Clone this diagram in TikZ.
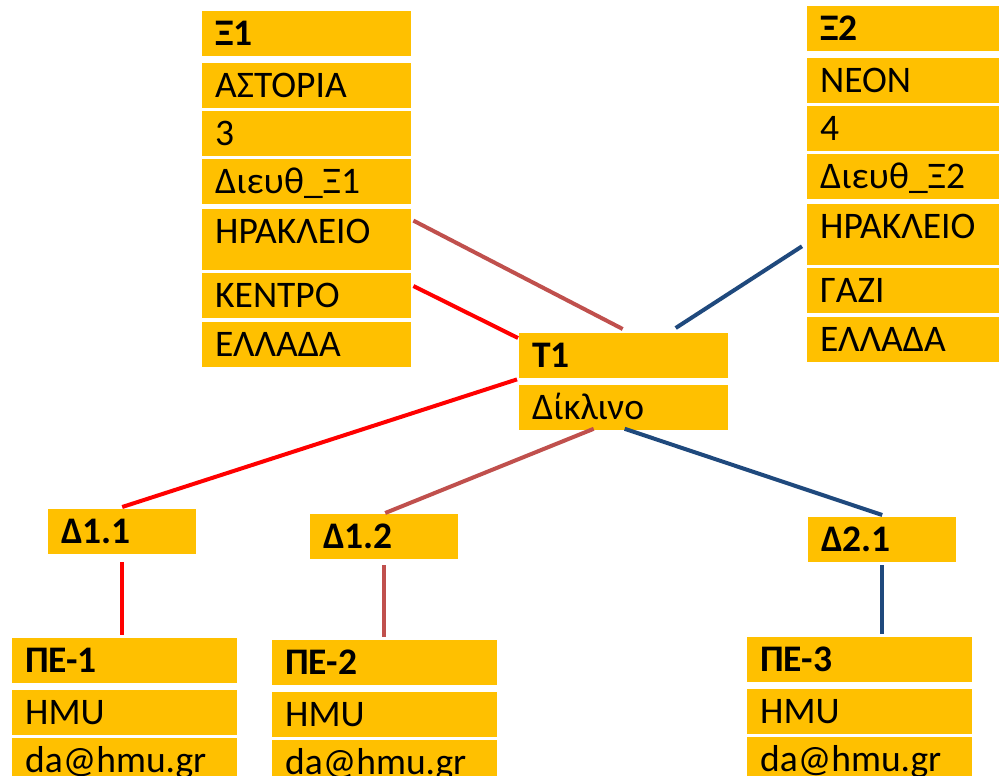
\documentclass[tikz,border=0pt]{standalone}
\usepackage{fontspec}
\setmainfont{Carlito}
\usepackage{xcolor}
\usepackage{tikz}
\usetikzlibrary{positioning,calc}

\definecolor{cellorange}{HTML}{FFC000}
\definecolor{linkred}{HTML}{FF0000}
\definecolor{linkbrown}{HTML}{C0504D}
\definecolor{linkblue}{HTML}{1F497D}

\begin{document}
\begin{tikzpicture}[x=1pt, y=-1pt]
  % Define styles
  \tikzstyle{cell} = [rectangle, fill=cellorange, anchor=north west, inner xsep=13pt, inner ysep=10.5pt, text height=24pt, text depth=0pt, align=left, font=\fontsize{37.5}{42}\selectfont]
  \tikzstyle{head} = [cell, font=\fontsize{37.5}{42}\selectfont\bfseries]
  \tikzstyle{tall} = [cell, text depth=16pt]
  \tikzstyle{wide} = [text width=183pt]
  \tikzstyle{narrow} = [text width=122pt]
  \tikzstyle{guest} = [text width=199pt]
  \tikzstyle{link} = [line width=4pt]

  \clip (0,0) rectangle (999,776);

  % Hotel 1
  \node [head, wide] (x1) at (202,11) {Ξ1};
  \node [cell, wide, below=6pt of x1] (x1name) {ΑΣΤΟΡΙΑ};
  \node [cell, wide, below=3pt of x1name] (x1stars) {3};
  \node [cell, wide, below=3pt of x1stars] (x1addr) {Διευθ\_Ξ1};
  \node [tall, wide, below=4pt of x1addr] (x1city) {ΗΡΑΚΛΕΙΟ};
  \node [cell, wide, below=3pt of x1city] (x1area) {ΚΕΝΤΡΟ};
  \node [cell, wide, below=3pt of x1area] (x1country) {ΕΛΛΑΔΑ};

  % Hotel 2
  \node [head, wide] (x2) at (807,6) {Ξ2};
  \node [cell, wide, below=6pt of x2] (x2name) {ΝΕΟΝ};
  \node [cell, wide, below=3pt of x2name] (x2stars) {4};
  \node [cell, wide, below=3pt of x2stars] (x2addr) {Διευθ\_Ξ2};
  \node [tall, wide, below=4pt of x2addr] (x2city) {ΗΡΑΚΛΕΙΟ};
  \node [cell, wide, below=3pt of x2city] (x2area) {ΓΑΖΙ};
  \node [cell, wide, below=3pt of x2area] (x2country) {ΕΛΛΑΔΑ};

  % Room type
  \node [head, wide] (t1) at (519,333) {Τ1};
  \node [cell, wide, below=6pt of t1] (t1room) {Δίκλινο};

  % Rooms
  \node [head, narrow] (d11) at (48,509) {Δ1.1};
  \node [head, narrow] (d12) at (310,514) {Δ1.2};
  \node [head, narrow] (d21) at (808,517) {Δ2.1};

  % Guests
  \node [head, guest] (pe1) at (12,638) {ΠΕ-1};
  \node [cell, guest, below=6pt of pe1] (pe1org) {HMU};
  \node [cell, guest, below=3pt of pe1org] (pe1mail) {da@hmu.gr};

  \node [head, guest] (pe2) at (272,640) {ΠΕ-2};
  \node [cell, guest, below=6pt of pe2] (pe2org) {HMU};
  \node [cell, guest, below=3pt of pe2org] (pe2mail) {da@hmu.gr};

  \node [head, guest] (pe3) at (747,637) {ΠΕ-3};
  \node [cell, guest, below=6pt of pe3] (pe3org) {HMU};
  \node [cell, guest, below=3pt of pe3org] (pe3mail) {da@hmu.gr};

  % Links
  \draw [link, linkbrown] ($(x1city.north east)+(2,12)$) -- ($(t1.north)+(-1,-4)$);
  \draw [link, linkred] ($(x1area.north east)+(2,13)$) -- ($(t1.north west)+(-1,5)$);
  \draw [link, linkblue] ($(x2city.west)+(-5,12)$) -- ($(t1.north)+(52,-5)$);
  \draw [link, linkred] ($(t1.south west)+(-2,1)$) -- ($(d11.north)+(0,-2)$);
  \draw [link, linkbrown] ($(t1room.south)+(-30,-1)$) -- ($(d12.north)+(1,-1)$);
  \draw [link, linkblue] ($(t1room.south)+(1,-1)$) -- ($(d21.north)+(0,-2)$);
  \draw [link, linkred] ($(d11.south)+(0,8)$) -- ($(d11.south |- pe1.north)+(0,-3)$);
  \draw [link, linkbrown] ($(d12.south)+(0,6)$) -- ($(d12.south |- pe2.north)+(0,-3)$);
  \draw [link, linkblue] ($(d21.south)+(0,3)$) -- ($(d21.south |- pe3.north)+(0,-3)$);

\end{tikzpicture}
\end{document}
